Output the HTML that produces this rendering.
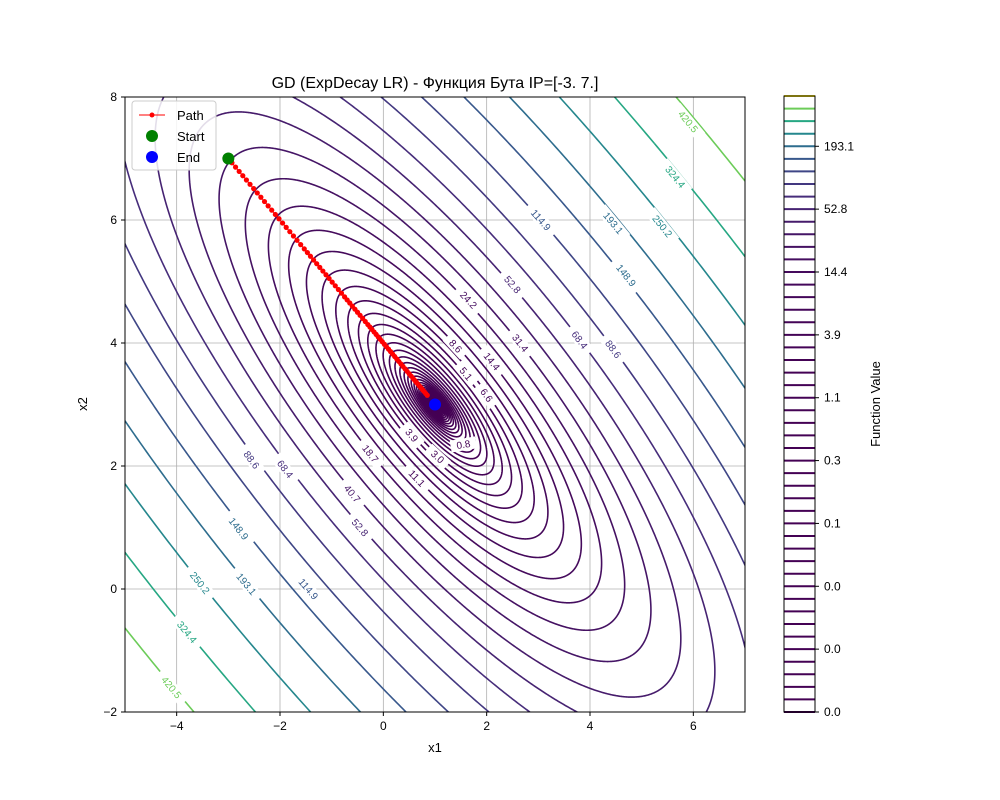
<!DOCTYPE html>
<html><head><meta charset="utf-8"><style>
html,body{margin:0;padding:0;background:#fff;overflow:hidden;width:1000px;height:800px;font-family:"Liberation Sans","Noto Sans CJK SC",sans-serif}
svg{display:block}
svg text{font-family:"Liberation Sans","DejaVu Sans",sans-serif}
</style></head><body>
<svg id="chart" width="1000" height="800" xmlns="http://www.w3.org/2000/svg">
<defs><clipPath id="clip"><rect x="125" y="97" width="620" height="615"/></clipPath></defs>
<rect width="1000" height="800" fill="#fff"/>
<g id="grid"></g>
<g id="contours" clip-path="url(#clip)"></g>
<g id="labels" clip-path="url(#clip)"></g>
<g id="path" clip-path="url(#clip)"></g>
<rect x="125" y="97" width="620" height="615" fill="none" stroke="#000" stroke-width="1"/>
<g id="axes"></g>
<text x="435" y="88" text-anchor="middle" font-size="16">GD (ExpDecay LR) - Функция Бута IP=[-3.  7.]</text>
<text x="435" y="752" text-anchor="middle" font-size="13">x1</text>
<text x="87" y="404" text-anchor="middle" font-size="13" transform="rotate(-90 87 404)">x2</text>
<g id="cbar"></g>
<text x="880" y="404" text-anchor="middle" font-size="13" transform="rotate(-90 880 404)">Function Value</text>
<g>
<rect x="132" y="101" width="84" height="69" rx="3" fill="#fff" fill-opacity="0.85" stroke="#ccc"/>
<line x1="139" y1="115" x2="165" y2="115" stroke="red" stroke-width="1"/><circle cx="152" cy="115" r="2.5" fill="red"/>
<text x="177" y="120" font-size="13">Path</text>
<circle cx="152" cy="136" r="6" fill="green"/>
<text x="177" y="141" font-size="13">Start</text>
<circle cx="152" cy="157" r="6" fill="blue"/>
<text x="177" y="162" font-size="13">End</text>
</g>
</svg>
<script>
const levelMin = 0.00165;
const levelMax = 545;
const levelCount = 50;
const xTicks = [-4,-2,0,2,4,6];
const yTicks = [-2,0,2,4,6,8];
const cbarTickLabels = ["0.0","0.0","0.0","0.1","0.3","1.1","3.9","14.4","52.8","193.1"];
const pathX1 = [-3.00,-2.93,-2.86,-2.79,-2.72,-2.65,-2.58,-2.51,-2.44,-2.37,-2.30,-2.23,-2.16,-2.09,-2.02,-1.95,-1.88,-1.81,-1.74,-1.67,-1.60,-1.53,-1.47,-1.41,-1.35,-1.29,-1.23,-1.17,-1.11,-1.05,-0.99,-0.93,-0.87,-0.81,-0.75,-0.70,-0.65,-0.60,-0.55,-0.50,-0.45,-0.40,-0.35,-0.30,-0.26,-0.22,-0.18,-0.14,-0.10,-0.06,-0.02,0.02,0.06,0.10,0.14,0.18,0.22,0.26,0.30,0.34,0.38,0.42,0.46,0.50,0.54,0.58,0.61,0.64,0.67,0.70,0.73,0.76,0.79,0.82,0.85];
const pathX2 = [7.00,6.93,6.86,6.79,6.72,6.65,6.58,6.51,6.44,6.37,6.30,6.23,6.16,6.09,6.02,5.95,5.88,5.81,5.74,5.67,5.60,5.53,5.47,5.41,5.35,5.29,5.23,5.17,5.11,5.05,4.99,4.93,4.87,4.81,4.75,4.70,4.65,4.60,4.55,4.50,4.45,4.40,4.35,4.30,4.26,4.22,4.18,4.14,4.10,4.06,4.02,3.98,3.94,3.90,3.86,3.82,3.78,3.74,3.70,3.66,3.62,3.58,3.54,3.50,3.46,3.42,3.39,3.36,3.33,3.30,3.27,3.24,3.21,3.18,3.15];
const startPt = [-3, 7];
const endPt = [1, 3];
const labelText = ["420.5","324.4","193.1","250.2","114.9","148.9","52.8","68.4","88.6","24.2","31.4","8.6","14.4","5.1","6.6","3.9","3.0","0.8","18.7","11.1","40.7","52.8","88.6","68.4","148.9","114.9","193.1","250.2","324.4","420.5"];
const labelLevel = [48,47,45,46,44,45,40,41,42,36,37,32,34,30,31,29,28,24,35,33,38,40,42,41,45,44,45,46,47,48];
const labelX1 = [5.9,5.65,4.45,5.4,3.05,4.7,2.5,3.8,4.45,1.65,2.65,1.4,2.1,1.6,2.0,0.55,1.05,1.55,-0.25,0.65,-0.6,-0.45,-2.55,-1.9,-2.8,-1.45,-2.65,-3.55,-3.8,-4.1];
const labelX2 = [7.6,6.7,5.95,5.9,6.0,5.1,4.95,4.05,3.9,4.7,4.0,3.95,3.7,3.5,3.15,2.5,2.15,2.35,2.2,1.8,1.55,1.0,2.1,1.95,0.98,0.0,0.08,0.1,-0.7,-1.6];

const svgNS="http://www.w3.org/2000/svg";
const X=x=>125+(x+5)*620/12, Y=y=>712-(y+2)*61.5;
const levels=[];for(let i=0;i<levelCount;i++)levels.push(levelMin*Math.pow(levelMax/levelMin,i/(levelCount-1)));
const vir=["#440154","#472d7b","#3b528b","#2c728e","#21918c","#28ae80","#5ec962","#addc30","#fde725"];
function hex(h){return [1,3,5].map(i=>parseInt(h.substr(i,2),16));}
function viridis(t){t=Math.max(0,Math.min(1,t));const p=t*8,i=Math.min(7,Math.floor(p)),fr=p-i;const a=hex(vir[i]),b=hex(vir[i+1]);return "rgb("+a.map((v,k)=>Math.round(v+(b[k]-v)*fr)).join(",")+")";}
const col=c=>viridis((c-levels[0])/(levels[levelCount-1]-levels[0]));
function el(tag,attrs,parent){const e=document.createElementNS(svgNS,tag);for(const k in attrs)e.setAttribute(k,attrs[k]);parent.appendChild(e);return e;}

const grid=document.getElementById('grid'),axes=document.getElementById('axes');
xTicks.forEach(t=>{const g=el('line',{x1:X(t),x2:X(t),y1:97,y2:712,stroke:'#b0b0b0','stroke-width':0.8},grid);

el('line',{x1:X(t),x2:X(t),y1:712,y2:716,stroke:'#000'},axes);
const tx=el('text',{x:X(t),y:730,'text-anchor':'middle','font-size':12},axes);tx.textContent=(t<0?'\u2212'+(-t):t);
});
yTicks.forEach(t=>{const g=el('line',{y1:Y(t),y2:Y(t),x1:125,x2:745,stroke:'#b0b0b0','stroke-width':0.8},grid);

el('line',{y1:Y(t),y2:Y(t),x1:121,x2:125,stroke:'#000'},axes);
const tx=el('text',{x:117,y:Y(t)+4,'text-anchor':'end','font-size':12},axes);tx.textContent=(t<0?'\u2212'+(-t):t);
});

// contours: f = 9a^2 + b^2 around (1,3), a along (1,1)/sqrt2, b along (1,-1)/sqrt2
const cg=document.getElementById('contours');
const inside=(px,py)=>px>=122&&px<=748&&py>=94&&py<=715;
levels.forEach(c=>{if(c>540)return;
const N=1440,ra=Math.sqrt(c)/3,rb=Math.sqrt(c);const pts=[];
for(let k=0;k<=N;k++){const th=k/N*2*Math.PI;const a=ra*Math.cos(th),b=rb*Math.sin(th);
const u=(a+b)/Math.SQRT2,v=(a-b)/Math.SQRT2;pts.push([X(1+u),Y(3+v)]);}
let segs=[],cur=[];
pts.forEach((p,k)=>{if(inside(p[0],p[1])){if(cur.length===0&&k>0){const q=pts[k-1];cur.push([Math.min(748,Math.max(122,q[0])),Math.min(715,Math.max(94,q[1]))]);}cur.push(p);}
else{if(cur.length){cur.push([Math.min(748,Math.max(122,p[0])),Math.min(715,Math.max(94,p[1]))]);segs.push(cur);cur=[];}}});
if(cur.length)segs.push(cur);
segs.forEach(s=>{const e=el('polyline',{points:s.map(p=>p[0].toFixed(2)+','+p[1].toFixed(2)).join(' '),fill:'none',stroke:col(c),'stroke-width':1.6},cg);

});});

const lg=document.getElementById('labels');
const sx=620/12,sy=61.5;
labelText.forEach((t,i)=>{const x=labelX1[i],y=labelX2[i],u=x-1,v=y-3;const gx=10*u+8*v,gy=8*u+10*v;
let dx=-gy*sx,dy=-gx*sy;let a=Math.atan2(dy,dx)*180/Math.PI;if(a>90)a-=180;if(a<-90)a+=180;
const px=X(x),py=Y(y);const g=el('g',{transform:`translate(${px},${py}) rotate(${a})`},lg);
el('rect',{x:-t.length*3.3-3,y:-6,width:t.length*6.6+6,height:12,fill:'#fff'},g);
const tx=el('text',{x:0,y:3.5,'text-anchor':'middle','font-size':10,fill:col(levels[labelLevel[i]])},g);tx.textContent=t;
});

const pg=document.getElementById('path');
const pl=el('polyline',{points:pathX1.map((x,i)=>X(x)+','+Y(pathX2[i])).join(' '),fill:'none',stroke:'red','stroke-width':1},pg);

pathX1.forEach((x,i)=>{const c=el('circle',{cx:X(x),cy:Y(pathX2[i]),r:2.6,fill:'red'},pg);
});
const s=el('circle',{cx:X(startPt[0]),cy:Y(startPt[1]),r:6,fill:'green'},pg);

const en=el('circle',{cx:X(endPt[0]),cy:Y(endPt[1]),r:6,fill:'blue'},pg);


const cb=document.getElementById('cbar');const cy=i=>712-i*(712-96)/(levelCount-1);
levels.forEach((c,i)=>{const l=el('line',{x1:784,x2:815,y1:cy(i),y2:cy(i),stroke:col(c),'stroke-width':2},cb);
});
el('rect',{x:784,y:96,width:31,height:616,fill:'none',stroke:'#000'},cb);
cbarTickLabels.forEach((t,k)=>{const y=cy(k*5);el('line',{x1:815,x2:819,y1:y,y2:y,stroke:'#000'},cb);
const tx=el('text',{x:824,y:y+4,'font-size':12},cb);tx.textContent=t;
});
</script>
</body></html>
